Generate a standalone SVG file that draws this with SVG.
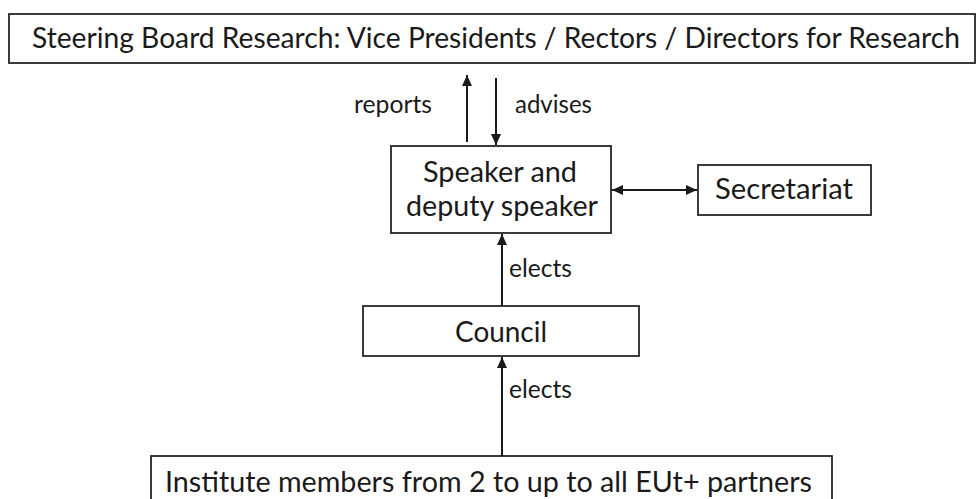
<svg xmlns="http://www.w3.org/2000/svg" width="979" height="499" viewBox="0 0 979 499">
<style>
.box{fill:#fff;stroke:#262626;stroke-width:1.8}
.t{font-family:Lato,"Open Sans","Liberation Sans",sans-serif;fill:#1a1a1a}
.big{font-size:29px}
.top{font-size:28px}
.lbl{font-size:25px}
.c{stroke:#1a1a1a;stroke-width:2;fill:none;marker-end:url(#ah)}
.c2{stroke:#1a1a1a;stroke-width:2;fill:none;marker-end:url(#ah);marker-start:url(#ah)}
</style>
<defs>
<marker id="ah" markerUnits="userSpaceOnUse" markerWidth="12" markerHeight="12" viewBox="0 0 12 12" refX="11" refY="6" orient="auto-start-reverse">
<path d="M0,1 L11,6 L0,11 z" fill="#1a1a1a"/>
</marker>
</defs>
<rect width="979" height="499" fill="#fff"/>
<g id="steering">
<rect class="box" x="9" y="14" width="966" height="49"/>
<text class="t top" x="32" y="48" textLength="928" lengthAdjust="spacingAndGlyphs">Steering Board Research: Vice Presidents / Rectors / Directors for Research</text>
</g>
<g id="speaker">
<rect class="box" x="391" y="146" width="220" height="87"/>
<text class="t big" x="423" y="182" textLength="154" lengthAdjust="spacingAndGlyphs">Speaker and</text>
<text class="t big" x="406" y="216" textLength="192" lengthAdjust="spacingAndGlyphs">deputy speaker</text>
</g>
<g id="secretariat">
<rect class="box" x="698" y="165" width="173" height="50"/>
<text class="t big" x="715" y="199" textLength="138" lengthAdjust="spacingAndGlyphs">Secretariat</text>
</g>
<g id="council">
<rect class="box" x="363" y="306" width="276" height="50"/>
<text class="t big" x="455" y="342" textLength="92" lengthAdjust="spacingAndGlyphs">Council</text>
</g>
<g id="institute">
<rect class="box" x="151" y="456" width="681" height="60"/>
<text class="t big" x="165" y="492" textLength="647" lengthAdjust="spacingAndGlyphs">Institute members from 2 to up to all EUt+ partners</text>
</g>
<g id="connectors">
<line class="c" x1="467" y1="142" x2="467" y2="75"/>
<line class="c" x1="496" y1="78" x2="496" y2="145"/>
<line class="c2" x1="612" y1="190" x2="697" y2="190"/>
<line class="c" x1="502" y1="306" x2="502" y2="234"/>
<line class="c" x1="502" y1="456" x2="502" y2="357"/>
<text class="t lbl" x="354" y="113" textLength="78" lengthAdjust="spacingAndGlyphs">reports</text>
<text class="t lbl" x="515" y="113" textLength="77" lengthAdjust="spacingAndGlyphs">advises</text>
<text class="t lbl" x="509" y="277" textLength="63" lengthAdjust="spacingAndGlyphs">elects</text>
<text class="t lbl" x="509" y="398" textLength="63" lengthAdjust="spacingAndGlyphs">elects</text>
</g>
</svg>
